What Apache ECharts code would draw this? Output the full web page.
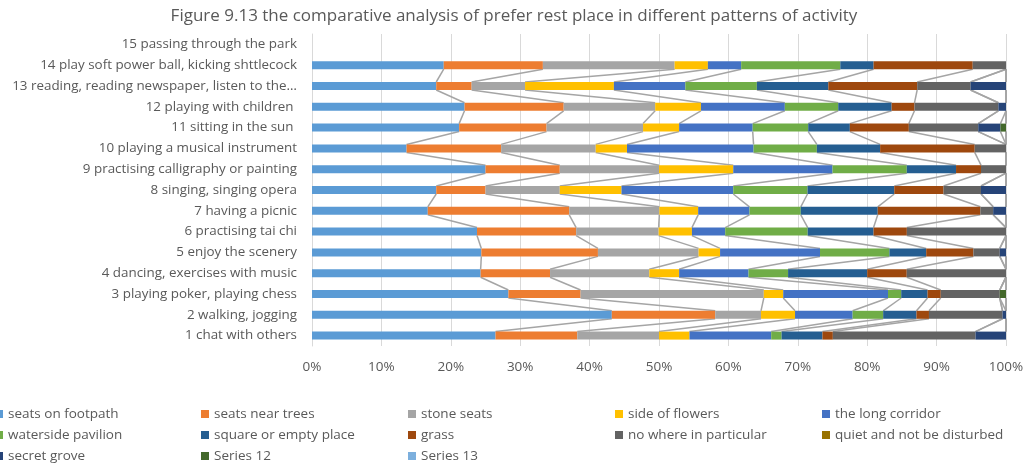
<!DOCTYPE html>
<html>
<head>
<meta charset="utf-8">
<script src="https://cdn.jsdelivr.net/npm/echarts@6/dist/echarts.min.js"></script>
<style>
html,body{margin:0;padding:0;background:#fff;}
#chart{width:1028px;height:466px;}
</style>
</head>
<body>
<div id="chart"></div>
<script>
// Categories (bottom to top)
const categories = [
  '1 chat with others',
  '2 walking, jogging',
  '3 playing poker, playing chess',
  '4 dancing, exercises with music',
  '5 enjoy the scenery',
  '6 practising tai chi',
  '7 having a picnic',
  '8 singing, singing opera',
  '9 practising calligraphy or painting',
  '10 playing a musical instrument',
  '11 sitting in the sun ',
  '12 playing with children ',
  '13 reading, reading newspaper, listen to the\u2026',
  '14 play soft power ball, kicking shttlecock',
  '15 passing through the park'
];

// Series values (percent of each activity row, rows 1..15)
const seatsOnFootpath   = [26.5, 43.2, 28.3, 24.3, 24.4, 23.8, 16.7, 17.9, 25.0, 13.6, 21.2, 22.0, 17.9, 19.0, 0];
const seatsNearTrees    = [11.8, 14.9, 10.4, 10.0, 16.8, 14.3, 20.4,  7.1, 10.7, 13.6, 12.6, 14.3,  5.1, 14.3, 0];
const stoneSeats        = [11.8,  6.6, 26.4, 14.3, 14.5, 11.9, 13.0, 10.7, 14.3, 13.6, 13.9, 13.2,  7.7, 19.0, 0];
const sideOfFlowers     = [ 4.4,  4.9,  2.8,  4.3,  3.1,  4.8,  5.6,  8.9, 10.7,  4.5,  5.2,  6.6, 12.8,  4.8, 0];
const theLongCorridor   = [11.8,  8.3, 15.1, 10.0, 14.4,  4.8,  7.4, 16.1, 14.3, 18.2, 10.6, 12.1, 10.3,  4.8, 0];
const watersidePavilion = [ 1.5,  4.4,  1.9,  5.7, 10.0, 11.9,  7.4, 10.7, 10.7,  9.1,  8.0,  7.7, 10.3, 14.3, 0];
const squareOrEmpty     = [ 5.9,  4.8,  3.8, 11.4,  5.3,  9.5, 11.1, 12.5,  7.1,  9.1,  6.0,  7.7, 10.3,  4.8, 0];
const grass             = [ 1.5,  1.8,  1.9,  5.7,  6.8,  4.8, 14.8,  7.1,  3.6, 13.6,  8.5,  3.3, 12.8, 14.3, 0];
const noWhere           = [20.6, 10.6,  8.5, 14.3,  3.8, 14.3, 1.85,  5.4,  3.6,  4.5, 10.0, 12.1,  7.7,  4.8, 0];
const quietPlace        = [ 0,    0,    0,    0,    0,    0,    0,    0,    0,    0,    0,    0,    0,    0,   0];
const secretGrove       = [ 4.4,  0.5,  0,    0,    0.9,  0,   1.85,  3.6,  0,    0,    3.2,  1.1,  5.1,  0,   0];
const series12          = [ 0,    0,    0.9,  0,    0,    0,    0,    0,    0,    0,    0.8,  0,    0,    0,   0];
const series13          = [ 0,    0,    0,    0,    0,    0,    0,    0,    0,    0,    0,    0,    0,    0,   0];

const seriesNames = ['seats on footpath','seats near trees','stone seats','side of flowers','the long corridor',
  'waterside pavilion','square or empty place','grass','no where in particular','quiet and not be disturbed',
  'secret grove','Series 12','Series 13'];
const seriesValues = [seatsOnFootpath, seatsNearTrees, stoneSeats, sideOfFlowers, theLongCorridor,
  watersidePavilion, squareOrEmpty, grass, noWhere, quietPlace, secretGrove, series12, series13];
const seriesColors = ['#5b9bd5','#ed7d31','#a5a5a5','#ffc000','#4472c4','#70ad47','#255e91','#9e480e',
  '#636363','#997300','#264478','#43682b','#7cafdd'];
const xTickValues = [0,10,20,30,40,50,60,70,80,90,100];

// normalise each row to 100%
const rowSums = categories.map((c, i) => seriesValues.reduce((a, s) => a + s[i], 0));
const pct = seriesValues.map(s => s.map((v, i) => rowSums[i] > 0 ? v / rowSums[i] * 100 : null));

// cumulative ends for series lines
const cum = categories.map((c, i) => {
  let acc = 0;
  return pct.map(s => { acc += (s[i] || 0); return acc; });
});
const lineData = [];
for (let k = 0; k < categories.length - 1; k++) {
  if (rowSums[k] <= 0 || rowSums[k + 1] <= 0) continue;
  for (let s = 0; s < seriesValues.length; s++) {
    lineData.push([cum[k][s], k, cum[k + 1][s], k + 1]);
  }
}

const FONT = 'Open Sans';
const BAR_W = 8;
const chart = echarts.init(document.getElementById('chart'), null, {renderer: 'canvas'});

const series = seriesNames.map((name, i) => ({
  name: name,
  type: 'bar',
  stack: 'total',
  barWidth: BAR_W,
  itemStyle: {color: seriesColors[i]},
  emphasis: {disabled: true},
  data: pct[i],
  z: 3
}));

series.push({
  type: 'custom',
  name: 'seriesLines',
  z: 1,
  silent: true,
  renderItem: function (params, api) {
    const p1 = api.coord([api.value(0), api.value(1)]);
    const p2 = api.coord([api.value(2), api.value(3)]);
    return {
      type: 'line',
      shape: {x1: p1[0], y1: p1[1] - BAR_W / 2, x2: p2[0], y2: p2[1] + BAR_W / 2},
      style: {stroke: '#a5a5a5', lineWidth: 1.5}
    };
  },
  encode: {x: [0, 2], y: [1, 3]},
  data: lineData
});

// legend: one component per item, laid out in a 5-column grid
const LEG_COLS = [-5, 201, 408, 615, 822];
const LEG_TOPS = [406, 427, 448];
const legends = seriesNames.map((name, i) => ({
  data: [name],
  left: LEG_COLS[i % 5],
  top: LEG_TOPS[Math.floor(i / 5)],
  padding: 0,
  itemWidth: 8,
  itemHeight: 8,
  icon: 'rect',
  textStyle: {fontFamily: FONT, fontSize: 13.5, lineHeight: 16, color: '#595959'}
}));

chart.setOption({
  animation: false,
  backgroundColor: '#ffffff',
  title: {
    text: 'Figure 9.13 the comparative analysis of prefer rest place in different patterns of activity',
    left: 'center',
    top: 3,
    textStyle: {fontFamily: FONT, fontSize: 17, fontWeight: 'normal', color: '#595959'}
  },
  legend: legends,
  grid: {left: 312, right: 22, top: 34, bottom: 120, containLabel: false},
  xAxis: {
    type: 'value',
    min: 0,
    max: 100,
    interval: 10,
    axisLine: {show: false},
    axisTick: {show: false},
    splitLine: {show: true, lineStyle: {color: '#d9d9d9', width: 1}},
    axisLabel: {
      margin: 14,
      fontFamily: FONT, fontSize: 13.5, color: '#595959',
      formatter: v => xTickValues.includes(v) ? v + '%' : ''
    }
  },
  yAxis: {
    type: 'category',
    data: categories,
    axisLine: {show: true, lineStyle: {color: '#d9d9d9'}},
    axisTick: {show: false},
    axisLabel: {margin: 15, fontFamily: FONT, fontSize: 13.4, color: '#595959'}
  },
  series: series
});
</script>
</body>
</html>
